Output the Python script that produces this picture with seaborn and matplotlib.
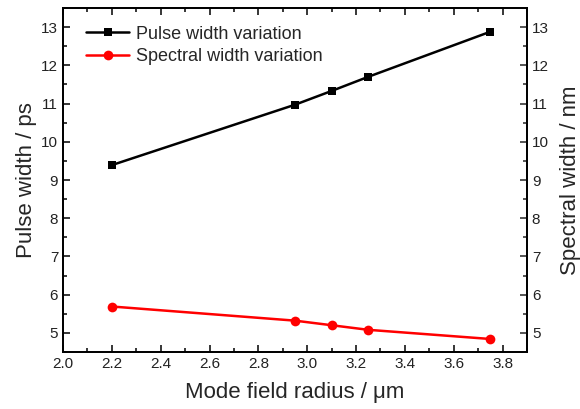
import matplotlib
matplotlib.use("Agg")
import matplotlib.pyplot as plt
import seaborn as sns
import pandas as pd
from matplotlib.ticker import MultipleLocator

radius = [2.2, 2.95, 3.1, 3.25, 3.75]
pulse_width = [9.39, 10.97, 11.33, 11.70, 12.88]
spectral_width = [5.69, 5.32, 5.20, 5.08, 4.84]

sns.set_style("ticks")
plt.rcParams['font.family'] = ['Liberation Sans', 'DejaVu Sans']

fig = plt.figure(figsize=(5.8, 4.09), dpi=100)
ax = fig.add_axes([0.1086, 0.1394, 0.8, 0.8410])
ax2 = ax.twinx()

df_p = pd.DataFrame({"x": radius, "y": pulse_width})
df_s = pd.DataFrame({"x": radius, "y": spectral_width})

sns.lineplot(data=df_p, x="x", y="y", ax=ax, color="black", marker="s",
             markersize=6, linewidth=1.8, markeredgewidth=0, label="Pulse width variation", legend=False)
sns.lineplot(data=df_s, x="x", y="y", ax=ax2, color="red", marker="o",
             markersize=7, linewidth=1.8, markeredgewidth=0, label="Spectral width variation", legend=False)

for a in (ax, ax2):
    a.set_xlim(2.0, 3.9)
    a.set_ylim(4.5, 13.5)
    a.yaxis.set_major_locator(MultipleLocator(1))
    a.yaxis.set_minor_locator(MultipleLocator(0.5))
    for s in a.spines.values():
        s.set_visible(True)
        s.set_linewidth(1.3)
        s.set_color("black")

ax.xaxis.set_major_locator(MultipleLocator(0.2))
ax.xaxis.set_minor_locator(MultipleLocator(0.1))
ax.tick_params(axis="both", which="both", direction="in", top=True, labelsize=11, width=1.1, colors="black", labelcolor="#222222")
ax.tick_params(which="major", length=5)
ax.tick_params(which="minor", length=3)
ax.tick_params(axis="y", right=False)
ax2.tick_params(axis="y", which="both", direction="in", labelsize=11, width=1.1, labelcolor="#222222")
ax2.tick_params(axis="y", which="major", length=5)
ax2.tick_params(axis="y", which="minor", length=3)

ax.set_xticklabels([f"{v:.1f}" for v in ax.get_xticks()])
ax.set_xlabel("Mode field radius / μm", fontsize=16, labelpad=8)
ax.set_ylabel("Pulse width / ps", fontsize=16, labelpad=3)
ax2.set_ylabel("Spectral width / nm", fontsize=16, labelpad=8)

h1, l1 = ax.get_legend_handles_labels()
h2, l2 = ax2.get_legend_handles_labels()
ax.legend(h1 + h2, l1 + l2, loc="upper left", bbox_to_anchor=(0.022, 0.985), frameon=False, fontsize=13,
          handlelength=2.4, borderaxespad=0.3, labelspacing=0.3, handletextpad=0.4)

fig.savefig("out.png", dpi=100)
